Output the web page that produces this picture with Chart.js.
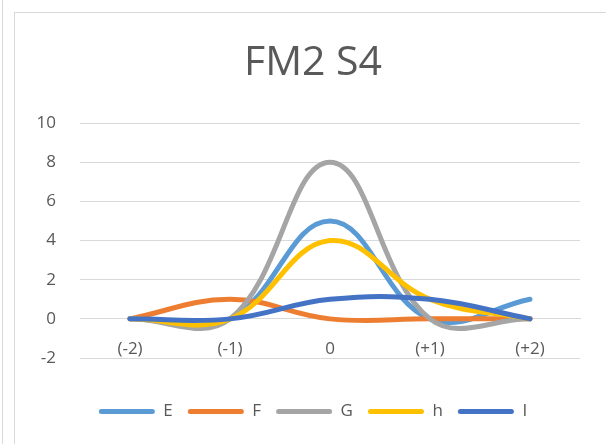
<!DOCTYPE html>
<html>
<head>
<meta charset="utf-8">
<title>FM2 S4</title>
<script src="https://cdn.jsdelivr.net/npm/chart.js@4.4.1/dist/chart.umd.min.js"></script>
<style>
  html, body { margin: 0; padding: 0; background: #fff; overflow: hidden; }
  .wrap { position: relative; width: 606px; height: 444px; }
  /* outer sheet edge + chart frame, both run off the page */
  .edge { position: absolute; left: 2px; top: 0; width: 0; height: 444px; border-left: 1px solid #d9d9d9; }
  .frame { position: absolute; left: 14px; top: 12px; width: 700px; height: 600px; border: 1px solid #d9d9d9; }
  canvas { position: absolute; left: 0; top: 0; }
</style>
</head>
<body>
<div class="wrap">
  <div class="edge"></div>
  <div class="frame"></div>
  <canvas id="chart" width="606" height="444"></canvas>
</div>
<script>
const categories = ['(-2)', '(-1)', '0', '(+1)', '(+2)'];

const seriesE = [0, 0, 5, 0, 1];
const seriesF = [0, 1, 0, 0, 0];
const seriesG = [0, 0, 8, 0, 0];
const seriesH = [0, 0, 4, 1, 0];
const seriesI = [0, 0, 1, 1, 0];

const seriesNames = ['E', 'F', 'G', 'h', 'I'];
const yTicks = [-2, 0, 2, 4, 6, 8, 10];

const colors = ['#5B9BD5', '#ED7D31', '#A5A5A5', '#FFC000', '#4472C4'];
const textColor = '#595959';
const gridColor = '#d9d9d9';
const font = '"Open Sans", "Liberation Sans", sans-serif';

const allSeries = [seriesE, seriesF, seriesG, seriesH, seriesI];

// later series sit on top, like the spreadsheet draws them
const datasets = allSeries.map((values, i) => ({
  label: seriesNames[i],
  data: values,
  borderColor: colors[i],
  backgroundColor: colors[i],
  borderWidth: 5,
  borderCapStyle: 'round',
  borderJoinStyle: 'round',
  pointRadius: 0,
  pointHoverRadius: 0,
  tension: 0.4,
  fill: false,
  order: allSeries.length - i
}));

const ctx = document.getElementById('chart');

new Chart(ctx, {
  type: 'line',
  data: { labels: categories, datasets: datasets },
  options: {
    responsive: false,
    animation: false,
    layout: { padding: { left: 30, right: 10, top: 0, bottom: 14 } },
    plugins: {
      tooltip: { enabled: false },
      title: {
        display: true,
        text: 'FM2 S4',
        color: textColor,
        font: { family: font, size: 41, weight: 'normal' },
        padding: { top: 39, bottom: 35 }
      },
      legend: {
        position: 'bottom',
        labels: {
          color: textColor,
          font: { family: font, size: 17 },
          boxWidth: 56,
          boxHeight: 5,
          padding: 15,
          useBorderRadius: true,
          borderRadius: 2.5,
          sort: (a, b) => a.datasetIndex - b.datasetIndex,
          generateLabels: (chart) => {
            const items = Chart.defaults.plugins.legend.labels.generateLabels(chart);
            return items.map(item => ({ ...item, lineWidth: 0, fillStyle: colors[item.datasetIndex], borderRadius: 2.5 }));
          }
        }
      }
    },
    scales: {
      // plotting axis: sits at the bottom, only reserves room above the legend
      x: {
        position: 'bottom',
        offset: true,
        grid: { display: false },
        border: { display: false },
        ticks: { display: false },
        afterFit: (scale) => { scale.height = 30; }
      },
      // category labels hang off the zero line
      xLabels: {
        type: 'category',
        position: { y: 0 },
        offset: true,
        grid: { display: false },
        border: { display: true, color: gridColor, width: 1 },
        ticks: {
          color: textColor,
          font: { family: font, size: 17 },
          padding: 12,
          maxRotation: 0,
          autoSkip: false
        }
      },
      y: {
        min: -2,
        max: 10,
        afterBuildTicks: (scale) => { scale.ticks = yTicks.map(v => ({ value: v })); },
        grid: { color: gridColor, lineWidth: 1, drawTicks: false },
        border: { display: false },
        ticks: {
          color: textColor,
          font: { family: font, size: 17 },
          padding: 24
        },
        afterFit: (scale) => { scale.width = 50; }
      },
      // empty strip on the right so the plot stops short of the frame
      yRight: {
        position: 'right',
        grid: { display: false },
        border: { display: false },
        ticks: { display: false },
        afterFit: (scale) => { scale.width = 16; }
      }
    }
  }
});
</script>
</body>
</html>
